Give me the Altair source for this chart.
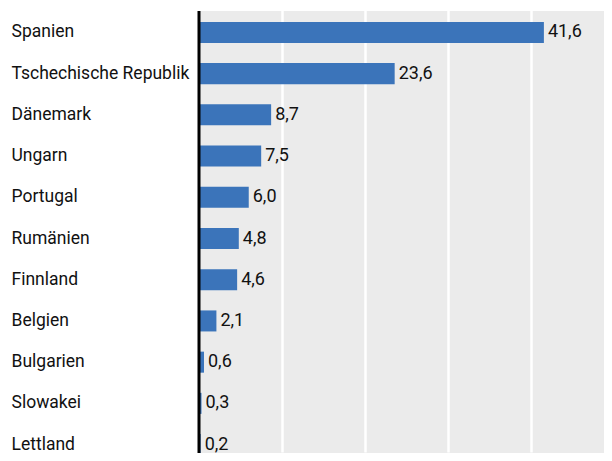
import altair as alt
import pandas as pd

countries = ["Spanien", "Tschechische Republik", "Dänemark", "Ungarn", "Portugal",
             "Rumänien", "Finnland", "Belgien", "Bulgarien", "Slowakei", "Lettland"]
values = [41.6, 23.6, 8.7, 7.5, 6.0, 4.8, 4.6, 2.1, 0.6, 0.3, 0.2]

df = pd.DataFrame({"land": countries, "wert": values})
df["label"] = [f"{v:.1f}".replace(".", ",") for v in values]

FONT = "Roboto"
FS = 17.5

y_scale = alt.Scale(paddingInner=0.49, paddingOuter=0.24, range=[1, 454])
y = alt.Y("land:N", sort=countries, title=None, scale=y_scale,
          axis=alt.Axis(labelAlign="left", labelPadding=188, ticks=False, domain=False,
                        labelFont=FONT, labelFontSize=FS, labelColor="#111111", grid=False))
x = alt.X("wert:Q", title=None, scale=alt.Scale(domain=[0, 48.85], nice=False, zero=True),
          axis=alt.Axis(values=[10, 20, 30, 40], labels=False, ticks=False, domain=False,
                        grid=True, gridColor="white", gridWidth=2.5, gridOpacity=1))

bars = alt.Chart(df).mark_bar(color="#3B74BA").encode(x=x, y=y)
text = alt.Chart(df).mark_text(align="left", dx=4, font=FONT, fontSize=18, color="#111111").encode(
    x="wert:Q", y=alt.Y("land:N", sort=countries), text="label:N")
zero = alt.Chart(pd.DataFrame({"z": [0]})).mark_rule(color="black", strokeWidth=3).encode(x="z:Q")

chart = alt.layer(bars, text, zero).properties(
    width=405, height=442,
    background="white",
    autosize=alt.AutoSizeParams(type="none"),
    padding={"left": 191, "top": 3, "right": 0, "bottom": 0},
).configure_view(fill="#EBEBEB", stroke=None)

chart.save("out.html", embed_options={"renderer": "svg", "actions": False})
